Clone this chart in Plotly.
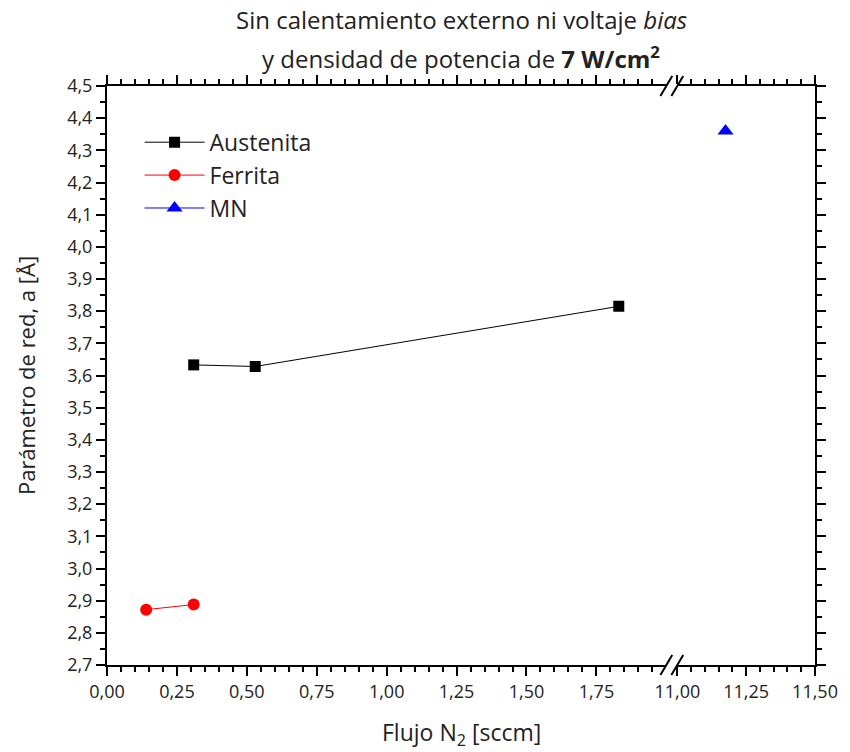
import plotly.graph_objects as go

# Lattice parameter vs N2 flow
aust_x = [0.31, 0.53, 1.83]
aust_y = [3.633, 3.628, 3.815]
ferr_x = [0.14, 0.31]
ferr_y = [2.872, 2.888]
mn_x = [11.175]
mn_y = [4.36]

x_left_ticks = [0.0, 0.25, 0.5, 0.75, 1.0, 1.25, 1.5, 1.75]
x_right_ticks = [11.0, 11.25, 11.5]

FONT = "Open Sans"
TXT = "#222"
AX = dict(showline=True, linewidth=2, linecolor="black", ticks="outside",
          ticklen=9, tickwidth=2, tickcolor="black", showgrid=False, zeroline=False,
          tickfont=dict(family=FONT, size=18, color=TXT))

fig = go.Figure()
fig.add_trace(go.Scatter(x=aust_x, y=aust_y, name="Austenita", mode="lines+markers",
                         line=dict(color="black", width=1),
                         marker=dict(symbol="square", size=11, color="black"),
                         xaxis="x", yaxis="y"))
fig.add_trace(go.Scatter(x=ferr_x, y=ferr_y, name="Ferrita", mode="lines+markers",
                         line=dict(color="red", width=1),
                         marker=dict(symbol="circle", size=12, color="red"),
                         xaxis="x", yaxis="y"))
fig.add_trace(go.Scatter(x=mn_x, y=mn_y, name="MN", mode="lines+markers",
                         line=dict(color="blue", width=1),
                         marker=dict(symbol="triangle-up", size=14, color="blue"),
                         xaxis="x2", yaxis="y2"))

d_left_end = 0.790
d_right_start = 0.8055

minor_left = [round(0.05 * i, 2) for i in range(1, 40) if i % 5]
minor_right = [round(11 + 0.05 * i, 2) for i in range(1, 10) if i % 5]
minor_y = [round(2.75 + 0.1 * i, 2) for i in range(18)]

fig.update_layout(
    width=850, height=752,
    margin=dict(l=107, r=26, t=86, b=87),
    paper_bgcolor="white", plot_bgcolor="white",
    separators=",.",
    showlegend=True,
    legend=dict(x=0.046, y=0.94, xanchor="left", yanchor="top",
                font=dict(family=FONT, size=23, color=TXT),
                bgcolor="rgba(0,0,0,0)", itemwidth=60, tracegroupgap=0),
    xaxis=dict(AX, domain=[0, d_left_end], range=[0, 2.0], anchor="y",
               tickmode="array", tickvals=x_left_ticks, tickformat=".2f",
               mirror="ticks",
               minor=dict(tickmode="array", tickvals=minor_left, ticklen=5,
                          tickwidth=2, ticks="outside", tickcolor="black")),
    xaxis2=dict(AX, domain=[d_right_start, 1], range=[11.0, 11.5], anchor="y2",
                tickmode="array", tickvals=x_right_ticks, tickformat=".2f",
                mirror="ticks",
                minor=dict(tickmode="array", tickvals=minor_right, ticklen=5,
                           tickwidth=2, ticks="outside", tickcolor="black")),
    yaxis=dict(AX, range=[2.7, 4.5], anchor="x", dtick=0.1, tick0=2.7,
               tickformat=".1f",
               minor=dict(tickmode="array", tickvals=minor_y, ticklen=5,
                          tickwidth=2, ticks="outside", tickcolor="black")),
    yaxis2=dict(AX, range=[2.7, 4.5], anchor="x2", side="right", matches="y",
                dtick=0.1, tick0=2.7, showticklabels=False,
                minor=dict(tickmode="array", tickvals=minor_y, ticklen=5,
                           tickwidth=2, ticks="outside", tickcolor="black")),
)

# Axis break marks on the top and bottom edges
dx, dy = 6 / 717, 10 / 579
shapes = []
for xc in (d_left_end, d_right_start):
    for yc in (0, 1):
        shapes.append(dict(type="line", xref="paper", yref="paper",
                           x0=xc - dx, y0=yc - dy, x1=xc + dx, y1=yc + dy,
                           line=dict(color="black", width=2)))
fig.update_layout(shapes=shapes)

fig.add_annotation(text="Sin calentamiento externo ni voltaje <i>bias</i>",
                   xref="paper", yref="paper", x=0.5, y=1.114, showarrow=False,
                   xanchor="center", yanchor="middle",
                   font=dict(family=FONT, size=24, color=TXT))
fig.add_annotation(text="y densidad de potencia de <b>7 W/cm<sup>2</sup></b>",
                   xref="paper", yref="paper", x=0.5, y=1.05, showarrow=False,
                   xanchor="center", yanchor="middle",
                   font=dict(family=FONT, size=24, color=TXT))
fig.add_annotation(text="Flujo N<sub>2</sub> [sccm]",
                   xref="paper", yref="paper", x=0.5, y=-0.118, showarrow=False,
                   xanchor="center", yanchor="middle",
                   font=dict(family=FONT, size=23, color=TXT))
fig.add_annotation(text="Parámetro de red, a [Å]", textangle=-90,
                   xref="paper", yref="paper", x=-0.115, y=0.5, showarrow=False,
                   xanchor="center", yanchor="middle",
                   font=dict(family=FONT, size=22, color=TXT))

fig.write_html("out.html")
